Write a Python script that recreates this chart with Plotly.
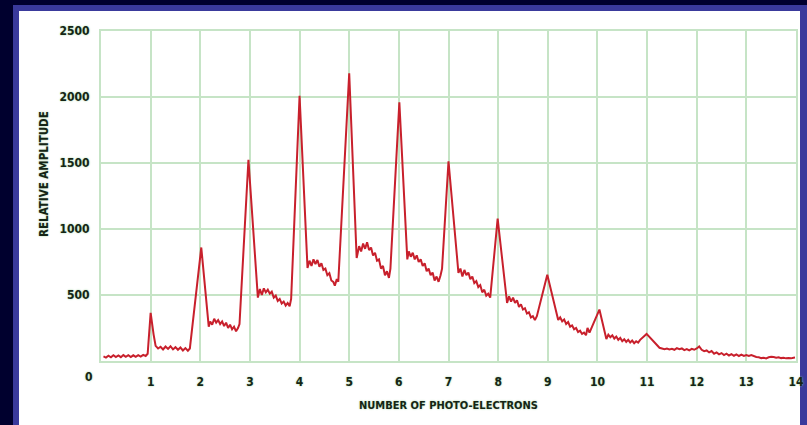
import plotly.graph_objects as go

# ---- data ----
photo_electrons = [
    0.05, 0.10, 0.15, 0.20, 0.25, 0.30, 0.35, 0.40, 0.45, 0.50,
    0.55, 0.60, 0.65, 0.70, 0.75, 0.80, 0.85, 0.90, 0.94, 1.00,
    1.06, 1.10, 1.15, 1.20, 1.25, 1.30, 1.35, 1.40, 1.45, 1.50,
    1.55, 1.60, 1.65, 1.70, 1.75, 1.79, 2.02,
    2.17, 2.20, 2.24, 2.28, 2.32, 2.36, 2.40, 2.44, 2.48, 2.52,
    2.56, 2.60, 2.64, 2.68, 2.72, 2.76, 2.79, 2.97,
    3.16, 3.20, 3.24, 3.28, 3.32, 3.36, 3.40, 3.44, 3.48, 3.52,
    3.56, 3.60, 3.64, 3.68, 3.72, 3.76, 3.80, 3.83, 4.00,
    4.16, 4.20, 4.24, 4.28, 4.32, 4.36, 4.40, 4.44, 4.48, 4.52,
    4.56, 4.60, 4.64, 4.68, 4.71, 4.75, 4.78, 5.00,
    5.15, 5.20, 5.24, 5.28, 5.32, 5.36, 5.40, 5.44, 5.48, 5.52,
    5.56, 5.60, 5.64, 5.68, 5.72, 5.76, 5.80, 5.83, 6.01,
    6.17, 6.20, 6.24, 6.28, 6.32, 6.36, 6.40, 6.44, 6.48, 6.52,
    6.56, 6.60, 6.64, 6.68, 6.72, 6.76, 6.80, 6.84, 6.87, 7.00,
    7.20, 7.24, 7.28, 7.32, 7.36, 7.40, 7.44, 7.48, 7.52, 7.56,
    7.60, 7.64, 7.68, 7.72, 7.76, 7.80, 7.84, 7.99,
    8.18, 8.22, 8.26, 8.30, 8.34, 8.38, 8.42, 8.46, 8.50, 8.54,
    8.58, 8.62, 8.66, 8.70, 8.74, 8.78, 8.99,
    9.21, 9.25, 9.29, 9.33, 9.37, 9.41, 9.45, 9.49, 9.53, 9.57,
    9.61, 9.65, 9.69, 9.73, 9.77, 9.80, 9.84, 10.04,
    10.18, 10.22, 10.26, 10.30, 10.34, 10.38, 10.42, 10.46, 10.50, 10.54,
    10.58, 10.62, 10.66, 10.70, 10.74, 10.78, 10.82, 10.86, 10.99,
    11.05, 11.10, 11.15, 11.20, 11.25, 11.30, 11.35, 11.40, 11.45, 11.50,
    11.55, 11.60, 11.65, 11.70, 11.75, 11.80, 11.85, 11.90, 11.95, 12.00,
    12.05, 12.10, 12.15, 12.20, 12.25, 12.30, 12.35, 12.40, 12.45, 12.50,
    12.55, 12.60, 12.65, 12.70, 12.75, 12.80, 12.85, 12.90, 12.95, 13.00,
    13.05, 13.10, 13.15, 13.20, 13.25, 13.30, 13.35, 13.40, 13.45, 13.50,
    13.55, 13.60, 13.65, 13.70, 13.75, 13.80, 13.85, 13.90, 13.95, 13.98,
]
relative_amplitude = [
    35, 26, 40, 28, 44, 30, 42, 29, 45, 32,
    44, 30, 43, 31, 44, 33, 46, 38, 55, 365,
    200, 115, 95, 108, 88, 110, 92, 112, 88, 105,
    85, 102, 80, 98, 78, 95, 860,
    260, 300, 275, 320, 290, 310, 280, 300, 265, 290,
    250, 275, 240, 260, 225, 250, 280, 1525,
    480, 545, 500, 550, 520, 540, 510, 525, 480, 495,
    455, 470, 435, 450, 420, 440, 415, 470, 2010,
    705, 760, 720, 770, 735, 765, 715, 740, 690, 700,
    650, 665, 610, 600, 570, 620, 600, 2180,
    780, 870, 830, 890, 850, 900, 840, 860, 800, 820,
    760, 770, 700, 720, 650, 680, 630, 700, 1960,
    770, 830, 790, 820, 770, 800, 750, 770, 720, 740,
    680, 700, 650, 670, 610, 640, 600, 650, 700, 1513,
    668, 700, 640, 690, 650, 670, 620, 640, 590, 605,
    560, 575, 520, 540, 495, 510, 480, 1078,
    440, 490, 450, 480, 440, 460, 410, 430, 390, 400,
    360, 370, 330, 340, 310, 340, 653,
    311, 330, 300, 315, 280, 295, 260, 270, 240, 250,
    220, 230, 205, 215, 195, 250, 215, 390,
    167, 200, 180, 195, 170, 185, 160, 175, 150, 165,
    145, 160, 140, 155, 135, 150, 140, 160, 205,
    180, 160, 135, 115, 100, 95, 90, 95, 88, 92,
    85, 98, 90, 95, 82, 90, 80, 92, 85, 95,
    110, 85, 75, 80, 65, 75, 55, 65, 50, 60,
    45, 55, 42, 52, 40, 50, 38, 48, 38, 45,
    38, 45, 35, 30, 28, 22, 25, 20, 28, 32,
    30, 25, 28, 22, 25, 20, 22, 20, 25, 26,
]
x_ticks = [1, 2, 3, 4, 5, 6, 7, 8, 9, 10, 11, 12, 13, 14]
y_ticks = [500, 1000, 1500, 2000, 2500]

# ---- layout geometry (pixels) ----
W, H = 807, 425
L, R, T, B = 101, 796, 31, 361
pw, ph = R - L, B - T


def px(x):
    return (x - L) / pw


def py(y):
    return (B - y) / ph


FONT = "DejaVu Sans Condensed, Roboto Condensed, Liberation Sans Narrow, DejaVu Sans"
TXT = "#152515"
GLOW = "0px 0px 2px #9fd29f"
GRID = "#c6e4c6"
TICKFONT = dict(family=FONT, size=12, color=TXT, weight="bold", shadow=GLOW)

fig = go.Figure()
fig.add_trace(go.Scatter(
    x=photo_electrons, y=relative_amplitude, mode="lines",
    line=dict(color="#c8202c", width=2), hoverinfo="skip",
))

fig.update_layout(
    width=W, height=H,
    margin=dict(l=L, r=W - R, t=T, b=H - B, pad=0, autoexpand=False),
    paper_bgcolor="#00002e",
    plot_bgcolor="white",
    showlegend=False,
    font=dict(family=FONT, color=TXT),
    xaxis=dict(
        range=[0, 14], tickvals=x_ticks, ticktext=[str(v) for v in x_ticks],
        showgrid=True, gridcolor=GRID, gridwidth=2,
        showline=True, mirror=True, linecolor=GRID, linewidth=2,
        zeroline=False, ticks="", ticklabelstandoff=9, automargin=False,
        tickfont=TICKFONT,
    ),
    yaxis=dict(
        range=[0, 2500], tickvals=y_ticks, ticktext=[str(v) for v in y_ticks],
        showgrid=True, gridcolor=GRID, gridwidth=2,
        showline=True, mirror=True, linecolor=GRID, linewidth=2,
        zeroline=False, ticks="", ticklabelstandoff=7, automargin=False,
        tickfont=TICKFONT,
    ),
    shapes=[
        dict(type="rect", xref="paper", yref="paper", layer="below",
             x0=px(13), x1=px(808), y0=py(5), y1=py(426),
             fillcolor="#3a3a9c", line=dict(width=0)),
        dict(type="rect", xref="paper", yref="paper", layer="below",
             x0=px(19), x1=px(800), y0=py(11), y1=py(426),
             fillcolor="white", line=dict(width=0)),
    ],
    annotations=[
        dict(text="0", xref="paper", yref="paper", x=px(89), y=py(377),
             showarrow=False, xanchor="center", yanchor="middle",
             font=TICKFONT),
        dict(text="RELATIVE AMPLITUDE", xref="paper", yref="paper",
             x=px(44), y=py(174), textangle=-90, showarrow=False,
             xanchor="center", yanchor="middle",
             font=dict(family=FONT, size=11.5, color=TXT, weight="bold", shadow=GLOW)),
        dict(text="NUMBER OF PHOTO-ELECTRONS", xref="paper", yref="paper",
             x=0.5, y=py(405), showarrow=False, xanchor="center", yanchor="middle",
             font=dict(family=FONT, size=11, color=TXT, weight="bold", shadow=GLOW)),
    ],
)

fig.write_html(
    "out.html",
    config={"displayModeBar": False},
    post_script="document.body.style.margin='0';"
                "document.body.style.background='#00002e';"
                "document.body.style.overflow='hidden';",
)
